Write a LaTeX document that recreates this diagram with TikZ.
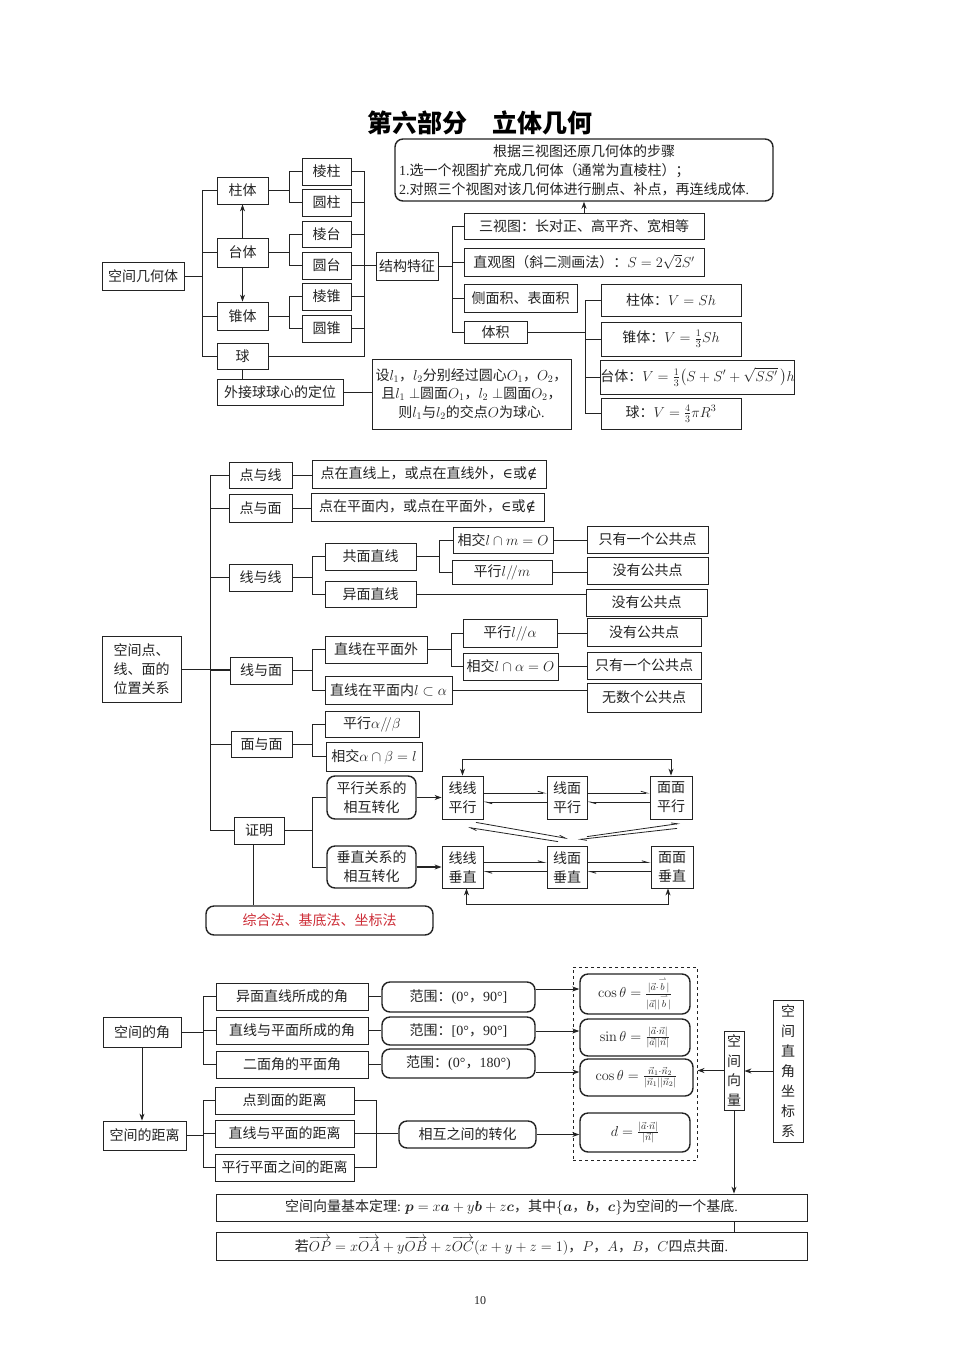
\documentclass[tikz,border=0pt]{standalone}
\usepackage{amsmath,amssymb}
\usepackage[no-math]{fontspec}
\setmainfont{Noto Sans CJK SC}
\newfontfamily\lat{Liberation Serif}
\newfontfamily\dv{DejaVu Serif}
\usetikzlibrary{arrows.meta,calc}
\definecolor{redt}{RGB}{205,45,55}
\definecolor{ink}{RGB}{35,35,35}
\newcommand\fsz[2]{\fontsize{#1pt}{#2pt}\selectfont}
\newcommand\vb{\overset{\rightharpoonup}{b}}
\begin{document}
\begin{tikzpicture}[x=1pt,y=-1pt,
  bx/.style={draw=ink,line width=0.8pt,inner sep=0pt,align=center,text=ink,font=\fsz{14}{18}},
  rbx/.style={bx,rounded corners=8pt,line width=1.4pt},
  ln/.style={draw=ink,line width=1pt},
  arr/.style={ln,-{Stealth[length=7pt,width=5pt]}},
  barr/.style={ln,{Stealth[length=7pt,width=5pt]}-{Stealth[length=7pt,width=5pt]}},
  harp/.style={draw=ink,line width=0.8pt,-{Straight Barb[harpoon,length=6pt,width=3.5pt]}}
]
\useasboundingbox[fill=white] (0,0) rectangle (960,1358);

% ---------------- title
\node[font=\fsz{25}{25}\bfseries,text=black] (title) at (480,123) {第六部分　立体几何};

% ---------------- part 1
\node[bx,minimum width=82,minimum height=28] (kjjht) at (143,276) {空间几何体};
\node[bx,minimum width=51,minimum height=27] (zt) at (242.5,190.5) {柱体};
\node[bx,minimum width=51,minimum height=29] (tt) at (242.5,252.5) {台体};
\node[bx,minimum width=51,minimum height=28] (zhui) at (242.5,316) {锥体};
\node[bx,minimum width=51,minimum height=26] (qiu) at (242.5,356) {球};
\node[bx,minimum width=49,minimum height=27] (lz) at (326.5,171.5) {棱柱};
\node[bx,minimum width=49,minimum height=27] (yz) at (326.5,202.5) {圆柱};
\node[bx,minimum width=49,minimum height=26] (lt) at (326.5,234) {棱台};
\node[bx,minimum width=49,minimum height=27] (yt) at (326.5,265.5) {圆台};
\node[bx,minimum width=49,minimum height=27] (lzh) at (326.5,296.5) {棱锥};
\node[bx,minimum width=49,minimum height=27] (yzh) at (326.5,328.5) {圆锥};
\node[bx,minimum width=62,minimum height=28] (jg) at (407,266) {结构特征};
\node[bx,minimum width=126,minimum height=26] (wj) at (280,392) {外接球球心的定位};
\node[bx,minimum width=199,minimum height=70,font=\fsz{14}{18.5}] (she) at (471.5,394)
  {设$l_1$，$l_2$分别经过圆心$O_1$，$O_2$，\\且$l_1\perp$圆面$O_1$，$l_2\perp$圆面$O_2$，\\则$l_1$与$l_2$的交点$O$为球心{\lat .}};
\node[rbx,minimum width=378,minimum height=62,align=left,font=\fsz{14}{19}] (gj) at (584,170)
  {\makebox[370pt][c]{根据三视图还原几何体的步骤}\\{\lat 1.}选一个视图扩充成几何体（通常为直棱柱）；\\{\lat 2.}对照三个视图对该几何体进行删点、补点，再连线成体{\lat .}};
\node[bx,minimum width=240,minimum height=26] (sst) at (584,226) {三视图：长对正、高平齐、宽相等};
\node[bx,minimum width=240,minimum height=28] (zgt) at (584,262) {直观图（斜二测画法）：$S=2\sqrt{2}S'$};
\node[bx,minimum width=113,minimum height=28] (cmj) at (520.5,298) {侧面积、表面积};
\node[bx,minimum width=63,minimum height=22] (tj) at (495.5,332) {体积};
\node[bx,minimum width=140,minimum height=32] (v1) at (671,300) {柱体：$V=Sh$};
\node[bx,minimum width=140,minimum height=34] (v2) at (671,339) {锥体：$V=\frac{1}{3}Sh$};
\node[bx,minimum width=193,minimum height=34] (v3) at (697.5,377) {台体：$V=\frac{1}{3}\bigl(S+S'+\sqrt{SS'}\,\bigr)h$};
\node[bx,minimum width=140,minimum height=31] (v4) at (671,413.5) {球：$V=\frac{4}{3}\pi R^3$};

\draw[ln] (kjjht.east) -- ++(19,0);
\draw[ln] (zt.west) -- ++(-14,0) |- (qiu.west);
\draw[ln] (tt.west) -- ++(-14,0);
\draw[ln] (zhui.west) -- ++(-14,0);
\draw[arr] (tt.north) -- (zt.south);
\draw[arr] (tt.south) -- (zhui.north);
\draw[ln] (zt.east) -- ++(22,0);
\draw[ln] (lz.west) -- ++(-12,0) |- (yz.west);
\draw[ln] (tt.east) -- ++(22,0);
\draw[ln] (lt.west) -- ++(-12,0) |- (yt.west);
\draw[ln] (zhui.east) -- ++(22,0);
\draw[ln] (lzh.west) -- ++(-12,0) |- (yzh.west);
\draw[ln] (lz.east) -- ++(13,0) |- (qiu.east);
\foreach \n in {yz,lt,lzh,yzh} \draw[ln] (\n.east) -- ++(13,0);
\draw[ln] (yt.east) -- (yt.east -| jg.west);
\draw[ln] (qiu.south) -- (qiu.south |- wj.north);
\draw[ln] (wj.east) -- (wj.east -| she.west);
\draw[ln] (jg.east) -- ++(15,0);
\draw[ln] (sst.west) -- ++(-11,0) |- (tj.west);
\draw[ln] (zgt.west) -- ++(-11,0);
\draw[ln] (cmj.west) -- ++(-11,0);
\draw[arr] (sst.north) -- (gj.south);
\draw[ln] (tj.east) -- ++(59,0);
\draw[ln] (v1.west) -- ++(-15,0) |- (v4.west);
\draw[ln] (v2.west) -- ++(-15,0);
\draw[ln] (v3.west) -- ++(-15,0);

% ---------------- part 2
\coordinate (mv) at (210,0);
\coordinate (c312) at (312,0);
\coordinate (c439) at (439,0);
\coordinate (c451) at (451,0);
\node[bx,minimum width=79,minimum height=66,font=\fsz{14}{19}] (kjd) at (141.5,669) {空间点、\\线、面的\\位置关系};
\node[bx,minimum width=63,minimum height=26] (dyx) at (260.5,475) {点与线};
\node[bx,minimum width=63,minimum height=28] (dym) at (260.5,508) {点与面};
\node[bx,minimum width=63,minimum height=27] (xyx) at (260.5,577.5) {线与线};
\node[bx,minimum width=62,minimum height=27] (xym) at (261,670.5) {线与面};
\node[bx,minimum width=61,minimum height=26] (mym) at (261.5,744) {面与面};
\node[bx,minimum width=50,minimum height=27] (zm) at (259,830.5) {证明};
\node[bx,minimum width=234,minimum height=28] (dzx) at (429,474) {点在直线上，或点在直线外，{\dv ∈}或{\dv ∉}};
\node[bx,minimum width=233,minimum height=28] (dzm) at (427.5,507) {点在平面内，或点在平面外，{\dv ∈}或{\dv ∉}};
\node[bx,minimum width=91,minimum height=27] (gmzx) at (370.5,556.5) {共面直线};
\node[bx,minimum width=91,minimum height=26] (ymzx) at (370.5,594) {异面直线};
\node[bx,minimum width=100,minimum height=26] (xj1) at (503,540) {相交$l\cap m=O$};
\node[bx,minimum width=100,minimum height=24] (px1) at (502,572) {平行$l/\!/m$};
\node[bx,minimum width=121,minimum height=27] (r1) at (647.5,539.5) {只有一个公共点};
\node[bx,minimum width=121,minimum height=27] (r2) at (647.5,570.5) {没有公共点};
\node[bx,minimum width=121,minimum height=27] (r3) at (646.5,602.5) {没有公共点};
\node[bx,minimum width=102,minimum height=27] (zxw) at (376,649.5) {直线在平面外};
\node[bx,minimum width=127,minimum height=28] (zxn) at (388.5,690) {直线在平面内$l\subset\alpha$};
\node[bx,minimum width=94,minimum height=28] (px2) at (510,633) {平行$l/\!/\alpha$};
\node[bx,minimum width=95,minimum height=27] (xj2) at (510.5,666.5) {相交$l\cap\alpha=O$};
\node[bx,minimum width=114,minimum height=28] (r4) at (644,632) {没有公共点};
\node[bx,minimum width=114,minimum height=27] (r5) at (644,665.5) {只有一个公共点};
\node[bx,minimum width=114,minimum height=29] (r6) at (644,697.5) {无数个公共点};
\node[bx,minimum width=94,minimum height=26] (pab) at (372,724) {平行$\alpha/\!/\beta$};
\node[bx,minimum width=96,minimum height=29] (xab) at (374,756.5) {相交$\alpha\cap\beta=l$};
\node[rbx,minimum width=89,minimum height=43,font=\fsz{14}{19}] (pxgx) at (371.5,797.5) {平行关系的\\相互转化};
\node[rbx,minimum width=89,minimum height=42,font=\fsz{14}{19}] (czgx) at (371.5,867) {垂直关系的\\相互转化};
\node[bx,minimum width=41,minimum height=43,font=\fsz{14}{19}] (xxpx) at (462.5,797.5) {线线\\平行};
\node[bx,minimum width=40,minimum height=43,font=\fsz{14}{19}] (xmpx) at (567,797.5) {线面\\平行};
\node[bx,minimum width=42,minimum height=43,font=\fsz{14}{19}] (mmpx) at (671,797.5) {面面\\平行};
\node[bx,minimum width=41,minimum height=42,font=\fsz{14}{19}] (xxcz) at (462.5,867) {线线\\垂直};
\node[bx,minimum width=40,minimum height=42,font=\fsz{14}{19}] (xmcz) at (567,867) {线面\\垂直};
\node[bx,minimum width=42,minimum height=42,font=\fsz{14}{19}] (mmcz) at (672,867) {面面\\垂直};
\node[rbx,minimum width=227,minimum height=29,text=redt] (zhf) at (319.5,920.5) {综合法、基底法、坐标法};

\draw[ln] (dyx.west) -- (dyx.west -| mv) |- (zm.west);
\foreach \n in {dym,xyx,xym,mym} \draw[ln] (\n.west) -- (\n.west -| mv);
\draw[ln] (kjd.east) -- (kjd.east -| xym.west);
\draw[ln] (dyx.east) -- (dyx.east -| dzx.west);
\draw[ln] (dym.east) -- (dym.east -| dzm.west);
\draw[ln] (xyx.east) -- (xyx.east -| c312);
\draw[ln] (gmzx.west) -- (gmzx.west -| c312) |- (ymzx.west);
\draw[ln] (gmzx.east) -- (gmzx.east -| c439);
\draw[ln] (xj1.west) -- (xj1.west -| c439) |- (px1.west);
\draw[ln] (xj1.east) -- (xj1.east -| r1.west);
\draw[ln] (px1.east) -- (px1.east -| r2.west);
\draw[ln] (ymzx.east) -- (ymzx.east -| r3.west);
\draw[ln] (xym.east) -- (xym.east -| c312);
\draw[ln] (zxw.west) -- (zxw.west -| c312) |- (zxn.west);
\draw[ln] (zxw.east) -- (zxw.east -| c451);
\draw[ln] (px2.west) -- (px2.west -| c451) |- (xj2.west);
\draw[ln] (px2.east) -- (px2.east -| r4.west);
\draw[ln] (xj2.east) -- (xj2.east -| r5.west);
\draw[ln] (zxn.east) -- (zxn.east -| r6.west);
\draw[ln] (mym.east) -- (mym.east -| c312);
\draw[ln] (pab.west) -- (pab.west -| c312) |- (xab.west);
\draw[ln] (zm.east) -- (zm.east -| c312);
\draw[ln] (pxgx.west) -- (pxgx.west -| c312) |- (czgx.west);
\draw[arr,line width=1.3pt] (pxgx.east) -- (xxpx.west);
\draw[arr,line width=1.3pt] (czgx.east) -- (xxcz.west);
\draw[harp] ([yshift=4.5pt]xxpx.east) -- ([yshift=4.5pt]xmpx.west);
\draw[harp] ([yshift=-4.5pt]xmpx.west) -- ([yshift=-4.5pt]xxpx.east);
\draw[harp] ([yshift=4.5pt]xmpx.east) -- ([yshift=4.5pt]mmpx.west);
\draw[harp] ([yshift=-4.5pt]mmpx.west) -- ([yshift=-4.5pt]xmpx.east);
\draw[harp] ([yshift=4.5pt]xxcz.east) -- ([yshift=4.5pt]xmcz.west);
\draw[harp] ([yshift=-4.5pt]xmcz.west) -- ([yshift=-4.5pt]xxcz.east);
\draw[harp] ([yshift=4.5pt]xmcz.east) -- ([yshift=4.5pt]mmcz.west);
\draw[harp] ([yshift=-4.5pt]mmcz.west) -- ([yshift=-4.5pt]xmcz.east);
\draw[barr] (xxpx.north) -- ++(0,-16) -| (mmpx.north);
\coordinate (lb) at ([xshift=4pt]xxcz.south);
\coordinate (rb) at ([xshift=-4pt]mmcz.south);
\draw[barr] (lb) -- ++(0,16) -| (rb);
\draw[harp] ($(xmcz.north)+(-9,-4)$) -- ($(xxpx.south)+(5.5,8)$);
\draw[harp] ($(xxpx.south)+(13.5,3)$) -- ($(xmcz.north)+(1,-7)$);
\draw[harp] ($(mmpx.south)+(6,9)$) -- ($(xmcz.north)+(11,-6)$);
\draw[harp] ($(xmcz.north)+(20,-9)$) -- ($(mmpx.south)+(9,4)$);
\coordinate (zs) at ([xshift=-6pt]zm.south);
\draw[ln] (zs) -- (zs |- zhf.north);

% ---------------- part 3
\coordinate (cb) at (203,0);
\coordinate (c376) at (376,0);
\node[bx,minimum width=78,minimum height=30] (kjj) at (142,1032) {空间的角};
\node[bx,minimum width=83,minimum height=29] (kjl) at (144.5,1135.5) {空间的距离};
\node[bx,minimum width=152,minimum height=27] (a1) at (292,996.5) {异面直线所成的角};
\node[bx,minimum width=152,minimum height=27] (a2) at (292,1030.5) {直线与平面所成的角};
\node[bx,minimum width=152,minimum height=27] (a3) at (292,1064.5) {二面角的平面角};
\node[rbx,minimum width=153,minimum height=30] (fw1) at (458.5,997) {范围：{\lat (0°}，{\lat 90°]}};
\node[rbx,minimum width=153,minimum height=28] (fw2) at (458.5,1031) {范围：{\lat [0°}，{\lat 90°]}};
\node[rbx,minimum width=153,minimum height=29] (fw3) at (458.5,1063.5) {范围：{\lat (0°}，{\lat 180°)}};
\node[bx,minimum width=139,minimum height=27] (d1) at (284.5,1100.5) {点到面的距离};
\node[bx,minimum width=139,minimum height=27] (d2) at (284.5,1133.5) {直线与平面的距离};
\node[bx,minimum width=139,minimum height=27] (d3) at (284.5,1167.5) {平行平面之间的距离};
\node[rbx,minimum width=137,minimum height=27] (xh) at (467.5,1134.5) {相互之间的转化};
\node[draw=ink,dashed,line width=0.9pt,minimum width=124,minimum height=193,inner sep=0pt] (dbox) at (635,1063.5) {};
\node[rbx,minimum width=110,minimum height=40] (f1) at (635,994) {$\cos\theta=\frac{|\vec{a}\cdot\vb|}{|\vec{a}||\vb|}$};
\node[rbx,minimum width=110,minimum height=37] (f2) at (635,1037.5) {$\sin\theta=\frac{|\vec{a}\cdot\vec{n}|}{|\vec{a}||\vec{n}|}$};
\node[rbx,minimum width=113,minimum height=37] (f3) at (636.5,1077.5) {$\cos\theta=\frac{\vec{n}_1\cdot\vec{n}_2}{|\vec{n}_1||\vec{n}_2|}$};
\node[rbx,minimum width=110,minimum height=39] (f4) at (635,1132.5) {$d=\frac{|\vec{a}\cdot\vec{n}|}{|\vec{n}|}$};
\node[bx,minimum width=20,minimum height=79,font=\fsz{14}{19.5}] (kjxl) at (734,1070.5) {空\\间\\向\\量};
\node[bx,minimum width=30,minimum height=142,font=\fsz{14}{20}] (kjzj) at (788,1071) {空\\间\\直\\角\\坐\\标\\系};
\node[bx,minimum width=591,minimum height=27,font=\fsz{14}{16}] (th1) at (511.5,1207.5)
  {空间向量基本定理{\lat :} $\boldsymbol{p}=x\boldsymbol{a}+y\boldsymbol{b}+z\boldsymbol{c}$，其中$\{\boldsymbol{a}$，$\boldsymbol{b}$，$\boldsymbol{c}\}$为空间的一个基底{\lat .}};
\node[bx,minimum width=591,minimum height=28,font=\fsz{14}{16}] (th2) at (511.5,1246)
  {若$\overrightarrow{OP}=x\overrightarrow{OA}+y\overrightarrow{OB}+z\overrightarrow{OC}(x+y+z=1)$，$P$，$A$，$B$，$C$四点共面{\lat .}};
\node[font=\lat\fsz{12}{12},text=ink] (pg) at (480,1301) {10};

\draw[arr] (kjj.south) -- (kjj.south |- kjl.north);
\draw[ln] (kjj.east) -- (kjj.east -| cb);
\draw[ln] (a1.west) -- (a1.west -| cb) |- (a3.west);
\draw[ln] (a2.west) -- (a2.west -| cb);
\draw[ln] (a1.east) -- (a1.east -| fw1.west);
\draw[ln] (a2.east) -- (a2.east -| fw2.west);
\draw[ln] (a3.east) -- (a3.east -| fw3.west);
\draw[ln] (kjl.east) -- (kjl.east -| cb);
\draw[ln] (d1.west) -- (d1.west -| cb) |- (d3.west);
\draw[ln] (d2.west) -- (d2.west -| cb);
\draw[ln] (d1.east) -- (d1.east -| c376) |- (d3.east);
\draw[ln] (d2.east) -- (d2.east -| xh.west);
\coordinate (p1) at ([yshift=8pt]fw1.east);
\coordinate (p3) at ([yshift=-8.5pt]fw3.east);
\draw[arr] (p1) -- (p1 -| f1.west);
\draw[arr] (fw2.east) -- (fw2.east -| f2.west);
\draw[arr] (p3) -- (p3 -| f3.west);
\draw[arr] (xh.east) -- (xh.east -| f4.west);
\draw[arr] (kjzj.west) -- (kjzj.west -| kjxl.east);
\draw[arr] (kjxl.west) -- (kjxl.west -| dbox.east);
\draw[arr] (kjxl.south) -- (kjxl.south |- th1.north);
\draw[ln] (kjxl.south |- th1.south) -- (kjxl.south |- th2.north);
\end{tikzpicture}
\end{document}
